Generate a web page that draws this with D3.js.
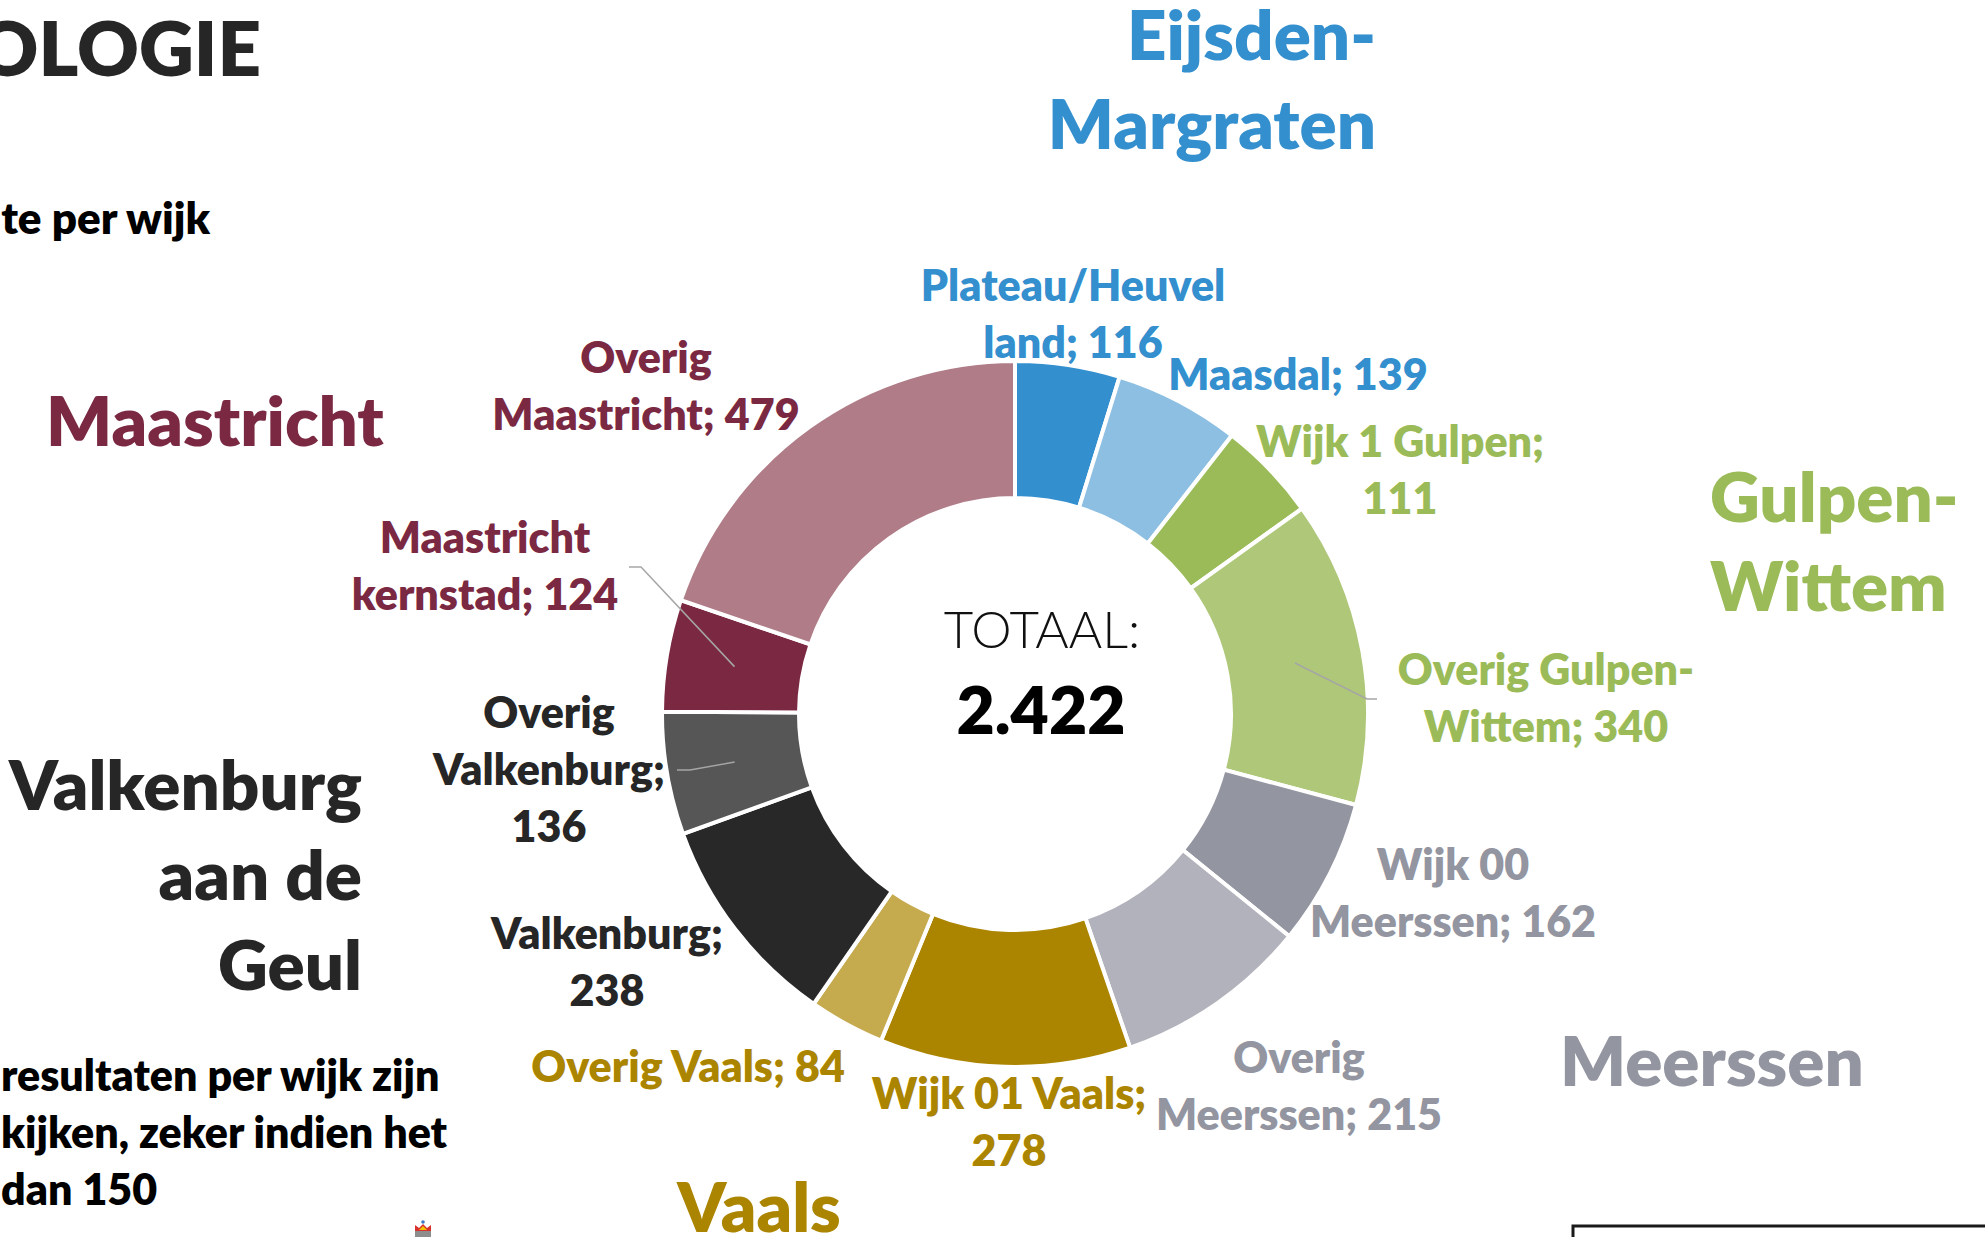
<!DOCTYPE html>
<html>
<head>
<meta charset="utf-8">
<script src="https://cdn.jsdelivr.net/npm/d3@7"></script>
<style>
  body { margin: 0; background: #fff; }
  svg { display: block; font-family: Lato, "Noto Sans", sans-serif; }
</style>
</head>
<body>
<div id="chart"></div>
<script>
// wijken (in volgorde van de ring, met de klok mee vanaf boven)
const wijken = ["Plateau/Heuvelland", "Maasdal", "Wijk 1 Gulpen", "Overig Gulpen-Wittem",
  "Wijk 00 Meerssen", "Overig Meerssen", "Wijk 01 Vaals", "Overig Vaals",
  "Valkenburg", "Overig Valkenburg", "Maastricht kernstad", "Overig Maastricht"];
const aantallen = [116, 139, 111, 340, 162, 215, 278, 84, 238, 136, 124, 479];
const gemeenteVanWijk = [0, 0, 1, 1, 2, 2, 3, 3, 4, 4, 5, 5];
const gemeenten = ["Eijsden-Margraten", "Gulpen-Wittem", "Meerssen", "Vaals",
  "Valkenburg aan de Geul", "Maastricht"];
const totaalTitel = "TOTAAL:";

const wijkKleuren = ["#338fce", "#8dbfe3", "#9bbb59", "#aec779", "#9395a1", "#b2b2bc",
  "#ac8500", "#c5aa4e", "#282828", "#565656", "#7b2942", "#af7c87"];
const gemeenteKleuren = ["#338fce", "#9bbb59", "#9395a1", "#ac8500", "#262626", "#7b2942"];

const W = 1985, H = 1237;
const cx = 1015, cy = 714, rOut = 353, rIn = 216;
const BOLD = 800;

const svg = d3.select('#chart').append('svg').attr('width', W).attr('height', H);

// slide tekst (afgesneden aan de linkerkant)
svg.append('text').text('OLOGIE').attr('x', 261).attr('y', 76).attr('text-anchor', 'end')
  .attr('font-size', 76).attr('font-weight', BOLD).attr('fill', '#262626');
svg.append('text').text('te per wijk').attr('x', 210).attr('y', 234).attr('text-anchor', 'end')
  .attr('font-size', 44).attr('font-weight', BOLD).attr('fill', '#000');
const voet = ['resultaten per wijk zijn', 'kijken, zeker indien het', 'dan 150'];
voet.forEach((t, i) => {
  svg.append('text').text(t).attr('x', 1).attr('y', 1091 + i * 57)
    .attr('font-size', 43).attr('font-weight', BOLD).attr('fill', '#000');
});

// kroontje
const kroon = svg.append('g').attr('transform', 'translate(423,1229)');
kroon.append('rect').attr('x', -8).attr('y', 2).attr('width', 16).attr('height', 8).attr('fill', '#8d8d8d');
kroon.append('path').attr('d', 'M-8,2 L-8,-4 L-4,-1 L0,-5 L4,-1 L8,-4 L8,2 Z').attr('fill', '#d8322f');
kroon.append('path').attr('d', 'M-4,1 L0,-3 L4,1 Z').attr('fill', '#f2c200');
kroon.append('circle').attr('cx', 0).attr('cy', -7).attr('r', 1.8).attr('fill', '#3a78c9');

// kader rechtsonder
svg.append('rect').attr('x', 1573).attr('y', 1226).attr('width', 500).attr('height', 100)
  .attr('fill', 'none').attr('stroke', '#1a1a1a').attr('stroke-width', 3);

// donut
const pie = d3.pie().sort(null).value(d => d)(aantallen);
const arc = d3.arc().innerRadius(rIn).outerRadius(rOut);
const ring = svg.append('g').attr('transform', `translate(${cx},${cy})`);
ring.selectAll('path').data(pie).join('path')
  .attr('d', arc)
  .attr('fill', (d, i) => wijkKleuren[i])
  .attr('stroke', '#fff').attr('stroke-width', 4).attr('stroke-linejoin', 'miter');

// labels per wijk: positie, regelafbrekingen en eventuele verbindingslijn
const labelLayout = [
  { x: 1073, y: 301, breaks: [14] },
  { x: 1298, y: 390, breaks: [] },
  { x: 1400, y: 457, breaks: [14] },
  { x: 1546, y: 685, breaks: [14] },
  { x: 1453, y: 880, breaks: [7] },
  { x: 1299, y: 1073, breaks: [6] },
  { x: 1009, y: 1109, breaks: [14] },
  { x: 688, y: 1082, breaks: [] },
  { x: 607, y: 949, breaks: [11] },
  { x: 549, y: 728, breaks: [6, 18] },
  { x: 485, y: 553, breaks: [10] },
  { x: 646, y: 373, breaks: [6] }
];
const leaders = {
  3: [[1367, 699], [1377, 699]],
  9: [[690, 770], [677, 770]],
  10: [[641, 567], [629, 567]]
};
const lineH = 57;

function splitAt(str, breaks) {
  const out = [];
  let prev = 0;
  breaks.forEach(b => { out.push(str.slice(prev, b).trim()); prev = b; });
  out.push(str.slice(prev).trim());
  return out;
}

const leaderLine = d3.line();
pie.forEach((d, i) => {
  if (!leaders[i]) return;
  const c = arc.centroid(d);
  const pts = [[cx + c[0], cy + c[1]], ...leaders[i]];
  svg.append('path').attr('d', leaderLine(pts)).attr('fill', 'none')
    .attr('stroke', '#a6a6a6').attr('stroke-width', 1.5);
});

wijken.forEach((w, i) => {
  const L = labelLayout[i];
  const lines = splitAt(`${w}; ${aantallen[i]}`, L.breaks);
  const t = svg.append('text').attr('text-anchor', 'middle').attr('font-size', 43)
    .attr('font-weight', BOLD).attr('fill', gemeenteKleuren[gemeenteVanWijk[i]]);
  lines.forEach((ln, j) => {
    t.append('tspan').attr('x', L.x).attr('y', L.y + j * lineH).text(ln);
  });
});

// gemeente namen
const gemeenteLayout = [
  { x: 1376, y: 60, anchor: 'end', breaks: [8], dy: 89 },
  { x: 1710, y: 522, anchor: 'start', breaks: [7], dy: 89 },
  { x: 1560, y: 1086, anchor: 'start', breaks: [], dy: 89 },
  { x: 759, y: 1232, anchor: 'middle', breaks: [], dy: 89 },
  { x: 362, y: 810, anchor: 'end', breaks: [10, 17], dy: 90 },
  { x: 46, y: 446, anchor: 'start', breaks: [], dy: 89 }
];
gemeenten.forEach((g, i) => {
  const L = gemeenteLayout[i];
  const t = svg.append('text').attr('text-anchor', L.anchor).attr('font-size', 69)
    .attr('font-weight', BOLD).attr('fill', gemeenteKleuren[i]);
  splitAt(g, L.breaks).forEach((ln, j) => {
    t.append('tspan').attr('x', L.x).attr('y', L.y + j * L.dy).text(ln);
  });
});

// totaal in het midden
const nl = d3.formatLocale({ decimal: ',', thousands: '.', grouping: [3], currency: ['€', ''] });
svg.append('text').text(totaalTitel).attr('x', 1042).attr('y', 648).attr('text-anchor', 'middle')
  .attr('font-size', 51).attr('font-weight', 300).attr('fill', '#111');
svg.append('text').text(nl.format(',')(d3.sum(aantallen))).attr('x', 1041).attr('y', 734)
  .attr('text-anchor', 'middle').attr('font-size', 66).attr('font-weight', BOLD).attr('fill', '#000');
</script>
</body>
</html>
